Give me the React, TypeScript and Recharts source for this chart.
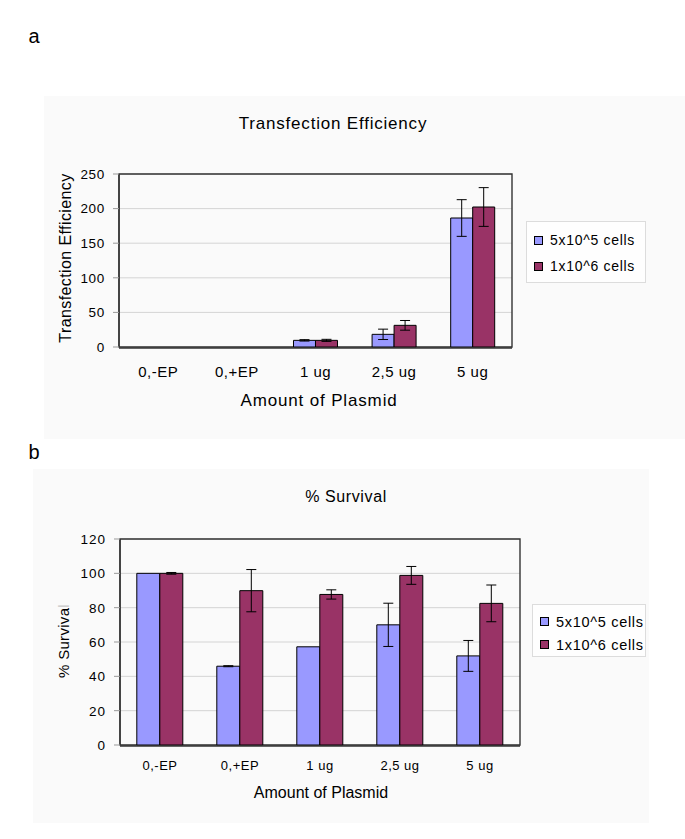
import React from 'react';
import { BarChart, Bar, XAxis, YAxis, CartesianGrid, ErrorBar, Legend, ReferenceArea } from 'recharts';

const categories = ['0,-EP', '0,+EP', '1 ug', '2,5 ug', '5 ug'];
const seriesNames = ['5x10^5 cells', '1x10^6 cells'];
const seriesColors = ['#9999ff', '#993366'];

const effLow = [0, 0, 9.6, 18.3, 186.4];
const effLowErr = [0, 0, 1, 7.5, 26.5];
const effHigh = [0, 0, 9.6, 31.3, 202.3];
const effHighErr = [0, 0, 1.5, 7, 28];
const effTicks = [0, 50, 100, 150, 200, 250];

const survLow = [100, 45.9, 57.2, 70, 51.9];
const survLowErr = [0, 0.3, 0, 12.6, 9];
const survHigh = [100, 89.9, 87.7, 98.8, 82.5];
const survHighErr = [0.5, 12.3, 2.7, 5.2, 10.7];
const survTicks = [0, 20, 40, 60, 80, 100, 120];

const boundaryTicks = [0, 1, 2, 3, 4, 5];

const FONT = '"Liberation Sans", Arial, sans-serif';

const effData = categories.map((c, i) => ({
  cat: c, low: effLow[i], lowErr: effLowErr[i], high: effHigh[i], highErr: effHighErr[i],
}));
const survData = categories.map((c, i) => ({
  cat: c, low: survLow[i], lowErr: survLowErr[i], high: survHigh[i], highErr: survHighErr[i],
}));

const makeLegend = (fontSize: number, gap: number) => () => (
  <div style={{ fontFamily: FONT, fontSize, letterSpacing: 0.7, color: '#000', padding: '5px 0 0 7px', boxSizing: 'border-box', width: '100%', height: '100%' }}>
    {seriesNames.map((name, i) => (
      <div key={i} style={{ display: 'flex', alignItems: 'center', height: gap }}>
        <span style={{ display: 'inline-block', width: 7, height: 7, background: seriesColors[i], border: '1px solid #000', marginRight: 7 }} />
        <span>{name}</span>
      </div>
    ))}
  </div>
);

const makeXTick = (fontSize: number, dy: number, ls: number) => (props: any) => {
  const { x, y, payload } = props;
  return (
    <text x={x} y={y + dy} textAnchor="middle" fontSize={fontSize} fontFamily={FONT} letterSpacing={ls} fill="#000">
      {payload.value}
    </text>
  );
};
const makeYTick = (fontSize: number, ls: number) => (props: any) => {
  const { x, y, payload } = props;
  return (
    <text x={x} y={y + fontSize * 0.36} textAnchor="end" fontSize={fontSize} fontFamily={FONT} letterSpacing={ls} fill="#000">
      {payload.value}
    </text>
  );
};

type ChartProps = {
  data: any[];
  ticks: number[];
  max: number;
  width: number;
  height: number;
  margin: { top: number; left: number; right: number; bottom: number };
  yTickFont: number;
  yTickLs: number;
  xTickFont: number;
  xTickDy: number;
  legendPos: { left: number; top: number; width: number; height: number };
  legendFont: number;
  legendGap: number;
  barGap: string;
};

function PlotChart(p: ChartProps) {
  const border = '#333';
  return (
    <BarChart width={p.width} height={p.height} data={p.data} margin={p.margin} barGap={0} barCategoryGap={p.barGap}>
      <CartesianGrid vertical={false} stroke="#d4d4d4" xAxisId="cat" yAxisId="left" />
      <XAxis xAxisId="bt" type="number" domain={[0, 5]} ticks={boundaryTicks} tick={false} axisLine={false}
        tickSize={4} height={1} tickLine={{ stroke: '#999' }} allowDataOverflow />
      <XAxis xAxisId="cat" dataKey="cat" height={29} tickLine={false} axisLine={{ stroke: border, strokeWidth: 1.4 }}
        tickSize={0} tickMargin={0} interval={0} tick={makeXTick(p.xTickFont, p.xTickDy, 0.5)} />
      <YAxis yAxisId="left" domain={[0, p.max]} ticks={p.ticks} width={60} tickSize={6} tickMargin={8}
        axisLine={{ stroke: border, strokeWidth: 1.4 }} tickLine={{ stroke: '#999' }}
        tick={makeYTick(p.yTickFont, p.yTickLs)} />
      <ReferenceArea xAxisId="cat" yAxisId="left" y1={0} y2={p.max} fill="none" stroke={border} strokeWidth={1.4} ifOverflow="visible" />
      <Legend layout="vertical" align="center" verticalAlign="middle"
        wrapperStyle={{ position: 'absolute', left: p.legendPos.left, top: p.legendPos.top, width: p.legendPos.width, height: p.legendPos.height, border: '1px solid #dcdcdc', background: '#fefefe', boxSizing: 'border-box' }}
        content={makeLegend(p.legendFont, p.legendGap)} />
      <Bar dataKey="low" name={seriesNames[0]} xAxisId="cat" yAxisId="left" fill={seriesColors[0]} stroke="#000" strokeWidth={1} isAnimationActive={false}>
        <ErrorBar dataKey="lowErr" width={5} stroke="#000" strokeWidth={1} direction="y" />
      </Bar>
      <Bar dataKey="high" name={seriesNames[1]} xAxisId="cat" yAxisId="left" fill={seriesColors[1]} stroke="#000" strokeWidth={1} isAnimationActive={false}>
        <ErrorBar dataKey="highErr" width={5} stroke="#000" strokeWidth={1} direction="y" />
      </Bar>
    </BarChart>
  );
}

export default function App() {
  return (
    <div style={{ position: 'absolute', left: 0, top: 0, width: 685, height: 839, background: '#fff', overflow: 'hidden' }}>
      <div style={{ position: 'absolute', left: 44, top: 96, width: 641, height: 343, background: '#fafafa' }} />
      <div style={{ position: 'absolute', left: 33, top: 469, width: 616, height: 354, background: '#fafafa' }} />
      <div style={{ position: 'absolute', left: 0, top: 0 }}>
        <PlotChart data={effData} ticks={effTicks} max={250} width={685} height={440}
          margin={{ top: 174, left: 59, right: 173, bottom: 63 }}
          yTickFont={13.5} yTickLs={0.7} xTickFont={15} xTickDy={29}
          legendPos={{ left: 526, top: 221, width: 120, height: 62 }} legendFont={14} legendGap={26} barGap="22%" />
      </div>
      <div style={{ position: 'absolute', left: 0, top: 440 }}>
        <PlotChart data={survData} ticks={survTicks} max={120} width={685} height={399}
          margin={{ top: 99, left: 60, right: 165, bottom: 64 }}
          yTickFont={13.5} yTickLs={1} xTickFont={13} xTickDy={24}
          legendPos={{ left: 532, top: 164, width: 114, height: 53 }} legendFont={14.5} legendGap={23} barGap="21%" />
      </div>
      <svg width={685} height={839} style={{ position: 'absolute', left: 0, top: 0, pointerEvents: 'none' }} fontFamily={FONT}>
        <text x={34} y={43} fontSize={20} textAnchor="middle" fill="#000">a</text>
        <text x={34} y={459} fontSize={20} textAnchor="middle" fill="#000">b</text>
        <text x={333} y={129} fontSize={17} letterSpacing={0.8} textAnchor="middle" fill="#000">Transfection Efficiency</text>
        <text x={319} y={406} fontSize={17} letterSpacing={0.85} textAnchor="middle" fill="#000">Amount of Plasmid</text>
        <text x={71} y={258} fontSize={16} letterSpacing={0.4} textAnchor="middle" fill="#000" transform="rotate(-90 71 258)">Transfection Efficiency</text>
        <text x={346} y={502} fontSize={16} letterSpacing={0.6} textAnchor="middle" fill="#000">% Survival</text>
        <text x={321} y={798} fontSize={16} textAnchor="middle" fill="#000">Amount of Plasmid</text>
        <text x={69} y={641} fontSize={15} letterSpacing={0.3} textAnchor="middle" fill="#000" transform="rotate(-90 69 641)">% Surviva<tspan fill="#c8c8c8">l</tspan></text>
      </svg>
    </div>
  );
}
